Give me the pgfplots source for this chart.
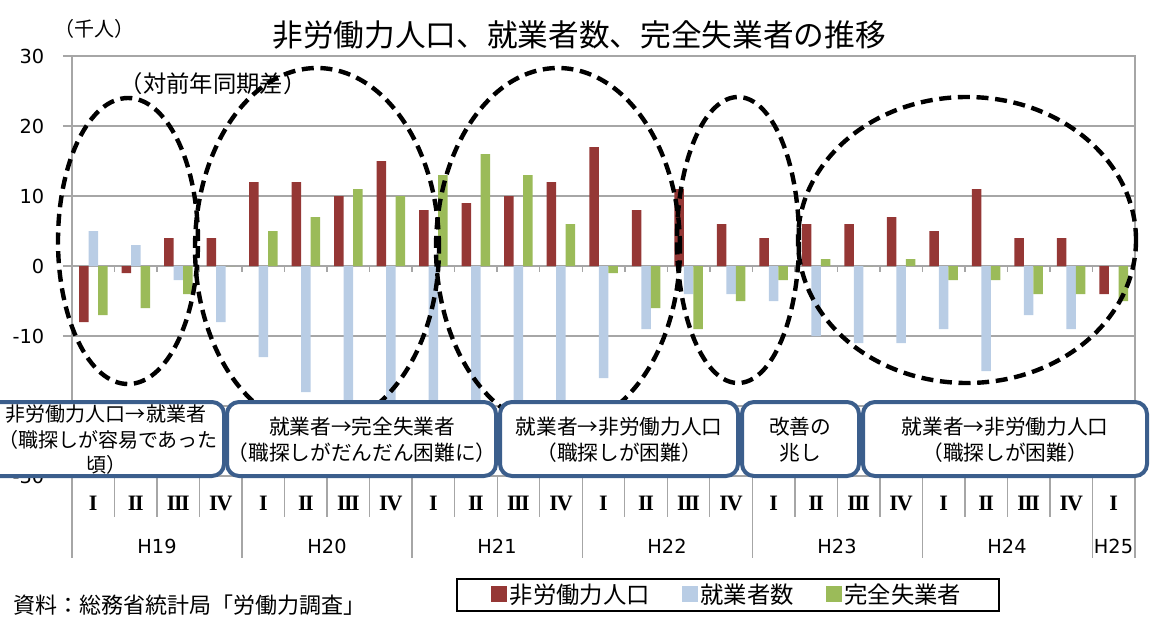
\documentclass[border=0pt]{standalone}
\usepackage{fontspec}
\usepackage{pgfplots}
\pgfplotsset{compat=1.18}
\setmainfont{DejaVu Sans}
\newfontfamily\jp{Noto Sans CJK JP}
\newfontfamily\rmn{Liberation Serif}
\definecolor{cRed}{HTML}{953735}
\definecolor{cBlue}{HTML}{B9CDE5}
\definecolor{cGreen}{HTML}{9BBB59}
\definecolor{cGrid}{HTML}{A6A6A6}
\definecolor{cBox}{HTML}{3B5E8C}
\newcommand\RI{I}
\newcommand\RII{I\kern-0.07em I}
\newcommand\RIII{I\kern-0.07em I\kern-0.07em I}
\newcommand\RIV{I\kern-0.05em V}
\begin{document}
\begin{tikzpicture}
\path[use as bounding box] (0,0) rectangle (864.75pt,-463.5pt);
\begin{axis}[
  at={(54pt,-357pt)}, anchor=south west,
  width=797.25pt, height=315pt, scale only axis,
  xmin=-0.5, xmax=24.5, ymin=-30, ymax=30,
  ybar=0pt, bar width=0.2235,
  axis line style={cGrid, line width=1.4pt},
  ytick={-30,-20,...,30}, yticklabels={-30,{},-10,0,10,20,30},
  ymajorgrids, grid style={cGrid, line width=1.1pt},
  ytick pos=left,
  tick align=outside, major tick length=6.75pt,
  ytick style={cGrid, line width=1.1pt},
  yticklabel style={font=\fontsize{14.5}{16}\selectfont, xshift=-10.5pt},
  xtick={0,...,24},
  xticklabels={\RI,\RII,\RIII,\RIV,\RI,\RII,\RIII,\RIV,\RI,\RII,\RIII,\RIV,\RI,\RII,\RIII,\RIV,\RI,\RII,\RIII,\RIV,\RI,\RII,\RIII,\RIV,\RI},
  xtick style={draw=none},
  xticklabel style={font=\rmn\bfseries\fontsize{16.5}{18}\selectfont, anchor=center, yshift=-13.5pt},
  legend image code/.code={\fill[#1] (0pt,-5pt) rectangle (12pt,7pt);},
  legend style={at={(0.6167,-0.283)}, anchor=center, legend columns=3,
    draw=black, line width=1.5pt, fill=white,
    font=\jp\fontsize{17.5}{19}\selectfont,
    inner xsep=26pt, inner ysep=2pt,
    /tikz/every even column/.append style={column sep=22pt}},
]
\addplot[fill=cRed, draw=none] coordinates {
(0,-8) (1,-1) (2,4) (3,4) (4,12) (5,12) (6,10) (7,15) (8,8) (9,9) (10,10) (11,12)
(12,17) (13,8) (14,11) (15,6) (16,4) (17,6) (18,6) (19,7) (20,5) (21,11) (22,4) (23,4) (24,-4)};
\addplot[fill=cBlue, draw=none] coordinates {
(0,5) (1,3) (2,-2) (3,-8) (4,-13) (5,-18) (6,-21) (7,-23) (8,-28) (9,-25) (10,-24) (11,-22)
(12,-16) (13,-9) (14,-4) (15,-4) (16,-5) (17,-10) (18,-11) (19,-11) (20,-9) (21,-15) (22,-7) (23,-9) (24,0)};
\addplot[fill=cGreen, draw=none] coordinates {
(0,-7) (1,-6) (2,-4) (3,0) (4,5) (5,7) (6,11) (7,10) (8,13) (9,16) (10,13) (11,6)
(12,-1) (13,-6) (14,-9) (15,-5) (16,-2) (17,1) (18,0) (19,1) (20,-2) (21,-2) (22,-4) (23,-4) (24,-5)};
\legend{非労働力人口,就業者数,完全失業者\hspace{6pt}}
\end{axis}
\begin{scope}[x=0.75pt,y=-0.75pt]
% small ticks on the zero line
\foreach \j in {1,...,24} \draw[cGrid, line width=1.1pt] ({72+42.52*\j},266) -- ++(0,6);
% category separators
\foreach \j in {0,...,25} \draw[cGrid, line width=1pt] ({72+42.52*\j},476) -- ({72+42.52*\j},517);
\foreach \j in {0,4,8,12,16,20,24,25} \draw[cGrid, line width=1pt] ({72+42.52*\j},476) -- ({72+42.52*\j},558);
\foreach \x/\t in {157/H19,327/H20,497/H21,667/H22,837/H23,1007/H24,1113.5/H25}
  \node[font=\fontsize{14.5}{16}\selectfont] at (\x,546) {\t};
% titles
\node[font=\jp\fontsize{23}{26}\selectfont] at (579,35) {非労働力人口、就業者数、完全失業者の推移};
\node[font=\jp\fontsize{15}{17}\selectfont] at (94,29) {（千人）};
\node[font=\jp\fontsize{17.5}{19}\selectfont] at (213,84) {（対前年同期差）};
\node[font=\jp\fontsize{16.5}{18}\selectfont, anchor=west] at (9,605) {資料：総務省統計局「労働力調査」};
% ellipses
\begin{scope}[line width=3.3pt, dash pattern=on 9pt off 5pt]
\draw (128,241) ellipse [x radius=52.5pt, y radius=107.25pt];
\draw (317,248) ellipse [x radius=91.5pt, y radius=135pt];
\draw (558,248) ellipse [x radius=91.5pt, y radius=135pt];
\draw (738,240) ellipse [x radius=45.75pt, y radius=107.25pt];
\draw (967,240) ellipse [x radius=126.75pt, y radius=107.25pt];
\end{scope}
% boxes
\begin{scope}[cBox, line width=3pt, rounded corners=9pt]
\filldraw[fill=white] (-15,402) rectangle (224,476);
\filldraw[fill=white] (227,402) rectangle (496,476);
\filldraw[fill=white] (500,402) rectangle (738,476);
\filldraw[fill=white] (742,402) rectangle (859,476);
\filldraw[fill=white] (863,402) rectangle (1147,476);
\end{scope}
\begin{scope}[font=\jp\fontsize{15.5}{17}\selectfont]
\node[font=\jp\fontsize{15}{17}\selectfont] at (106,414) {非労働力人口→就業者};
\node[font=\jp\fontsize{15}{17}\selectfont] at (108,440) {（職探しが容易であった};
\node[font=\jp\fontsize{15}{17}\selectfont] at (106,465) {頃）};
\node at (362,427) {就業者→完全失業者};
\node at (362,453) {（職探しがだんだん困難に）};
\node at (619,427) {就業者→非労働力人口};
\node at (619,453) {（職探しが困難）};
\node at (800,427) {改善の};
\node at (800,453) {兆し};
\node at (1005,427) {就業者→非労働力人口};
\node at (1005,453) {（職探しが困難）};
\end{scope}
\end{scope}
\end{tikzpicture}
\end{document}
